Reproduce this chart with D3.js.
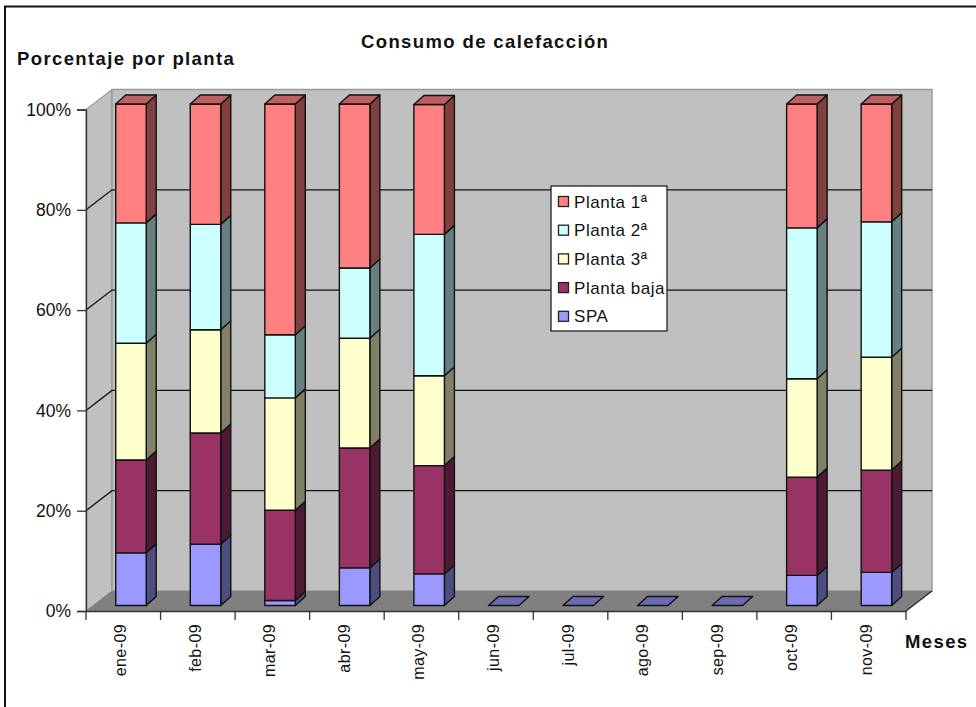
<!DOCTYPE html>
<html lang="es">
<head>
<meta charset="utf-8">
<title>Consumo de calefacción</title>
<script src="https://cdn.jsdelivr.net/npm/d3@7"></script>
<style>
  html, body { margin: 0; padding: 0; background: #fff; }
  svg { display: block; }
  text { font-family: "Liberation Sans", Arial, sans-serif; fill: #111; }
</style>
</head>
<body>
<svg id="chart" width="976" height="707"></svg>
<script>
// Meses y porcentaje de consumo por planta
const months = ["ene-09","feb-09","mar-09","abr-09","may-09","jun-09","jul-09","ago-09","sep-09","oct-09","nov-09"];
const seriesNames = ["SPA","Planta baja","Planta 3ª","Planta 2ª","Planta 1ª"];
const spa       = [10.5, 12.2,  1.0,  7.5,  6.3, 0, 0, 0, 0,  6.0,  6.6];
const plantaBaja= [18.5, 22.2, 18.0, 23.9, 21.6, 0, 0, 0, 0, 19.6, 20.4];
const planta3   = [23.3, 20.6, 22.4, 21.9, 17.9, 0, 0, 0, 0, 19.6, 22.5];
const planta2   = [24.0, 21.0, 12.6, 14.0, 28.2, 0, 0, 0, 0, 30.1, 27.0];
const planta1   = [23.7, 24.0, 46.0, 32.7, 25.9, 0, 0, 0, 0, 24.7, 23.5];
const seriesValues = [spa, plantaBaja, planta3, planta2, planta1];
const seriesColors = ["#9999FF","#993366","#FFFFCC","#CCFFFF","#FF8080"];
const legendOrder = ["Planta 1ª","Planta 2ª","Planta 3ª","Planta baja","SPA"];
const yTicks = [0, 20, 40, 60, 80, 100];

const svg = d3.select("#chart");

// Front plane of the 3D box
const x = d3.scaleBand().domain(months).range([86, 906]).paddingInner(0).paddingOuter(0);
const y = d3.scaleLinear().domain([0, 100]).range([611, 109.5]);

// Oblique offsets: full box depth, bar front plane, bar depth
const depth = { dx: 26, dy: -20 };
const barFront = { dx: 7.7, dy: -5.5 };
const barDepth = { dx: 10, dy: -9 };
const barWidth = 30.5;
const line = d3.line();
const poly = pts => line(pts) + "Z";

// Outer frame: only the top and left edges are drawn
svg.append("path").attr("d", line([[5, 707], [5, 6.5], [976, 6.5]]))
  .attr("fill", "none").attr("stroke", "#111").attr("stroke-width", 2);

// Walls and floor
const x0 = x.range()[0], x1 = x.range()[1], yb = y(0), yt = y(100);
const back = (px, py) => [px + depth.dx, py + depth.dy];
svg.append("path").attr("d", poly([[x0, yb], [x0, yt], back(x0, yt), back(x0, yb)]))
  .attr("fill", "#C0C0C0").attr("stroke", "#808080");
svg.append("path").attr("d", poly([back(x0, yt), back(x1, yt), back(x1, yb), back(x0, yb)]))
  .attr("fill", "#C0C0C0").attr("stroke", "#9a9a9a").attr("stroke-width", 1.5);
svg.append("path").attr("d", poly([[x0, yb], [x1, yb], back(x1, yb), back(x0, yb)]))
  .attr("fill", "#808080");

// Gridlines run along the side wall and the back wall
yTicks.filter(t => t > 0 && t < 100).forEach(t => {
  svg.append("path")
    .attr("d", line([[x0, y(t)], back(x0, y(t)), back(x1, y(t))]))
    .attr("fill", "none").attr("stroke", "#111").attr("stroke-width", 1.3);
});
svg.append("path").attr("d", line([[x1, yb], back(x1, yb)]))
  .attr("fill", "none").attr("stroke", "#222").attr("stroke-width", 1.2);

// Stacked bars
const rows = months.map((m, i) => {
  const row = { month: m };
  seriesNames.forEach((s, k) => { row[s] = seriesValues[k][i]; });
  return row;
});
const stacked = d3.stack().keys(seriesNames)(rows);
const shade = (c, f) => { const q = d3.rgb(c); return d3.rgb(q.r * f, q.g * f, q.b * f).formatHex(); };

rows.forEach((row, i) => {
  const g = svg.append("g");
  const left = x(row.month) + x.bandwidth() / 2 - barWidth / 2 + barFront.dx;
  const right = left + barWidth;
  const topIndex = d3.max(stacked.map((s, k) => s[i][1] > s[i][0] ? k : 0));
  stacked.forEach((s, k) => {
    const [v0, v1] = s[i];
    const empty = v1 <= v0;
    if (empty && k !== 0) return;
    const yB = y(v0) + barFront.dy, yT = y(v1) + barFront.dy;
    const col = seriesColors[k];
    const shape = (d, fill) => g.append("path").attr("d", d).attr("fill", fill)
      .attr("stroke", "#111").attr("stroke-width", 1.4).attr("stroke-linejoin", "round");
    if (!empty) {
      shape(poly([[right, yB], [right + barDepth.dx, yB + barDepth.dy], [right + barDepth.dx, yT + barDepth.dy], [right, yT]]), shade(col, 0.5));
      shape(poly([[left, yT], [right, yT], [right, yB], [left, yB]]), col);
    }
    if (k === topIndex) {
      shape(poly([[left, yT], [right, yT], [right + barDepth.dx, yT + barDepth.dy], [left + barDepth.dx, yT + barDepth.dy]]),
        empty ? shade(col, 0.7) : shade(col, 0.75));
    }
  });
});

// Value axis
const yAxis = svg.append("g").attr("transform", `translate(${x0},0)`)
  .call(d3.axisLeft(y).tickValues(yTicks).tickFormat(d => d + "%").tickSize(9).tickPadding(6));
yAxis.select(".domain").attr("stroke", "#333").attr("stroke-width", 1.3);
yAxis.selectAll(".tick line").attr("stroke", "#333").attr("stroke-width", 1.3);
yAxis.selectAll("text").attr("font-size", 17.5).attr("font-family", "Liberation Sans").attr("fill", "#222");

// Category axis: labels centred on bands, tick marks on band edges
const xAxis = svg.append("g").attr("transform", `translate(0,${yb})`)
  .call(d3.axisBottom(x).tickSize(0).tickPadding(0));
xAxis.select(".domain").attr("stroke", "#333").attr("stroke-width", 1.3);
xAxis.selectAll("text")
  .attr("font-size", 16).attr("font-family", "Liberation Sans").attr("fill", "#222")
  .attr("letter-spacing", 0.4)
  .attr("text-anchor", "end").attr("dy", null)
  .attr("transform", "translate(-2,13) rotate(-90)").attr("y", 5).attr("x", 0);
xAxis.selectAll("line.edge")
  .data(months.map(m => x(m)).concat(x1))
  .join("line").attr("class", "edge")
  .attr("x1", d => d).attr("x2", d => d).attr("y1", 0).attr("y2", 9)
  .attr("stroke", "#333").attr("stroke-width", 1.3);

// Legend
const legend = svg.append("g").attr("transform", "translate(551,186)");
legend.append("rect").attr("width", 116).attr("height", 145)
  .attr("fill", "#fff").attr("stroke", "#222").attr("stroke-width", 1.3);
const item = legend.selectAll("g").data(legendOrder).join("g")
  .attr("transform", (d, i) => `translate(0,${15.5 + i * 28.7})`);
item.append("rect").attr("x", 7.5).attr("y", -5).attr("width", 10).attr("height", 10)
  .attr("fill", d => seriesColors[seriesNames.indexOf(d)]).attr("stroke", "#222").attr("stroke-width", 1.3);
item.append("text").attr("x", 23).attr("y", 6).attr("font-size", 17).attr("letter-spacing", 0.55).attr("fill", "#222").text(d => d);

// Titles
const heading = (tx, ty, label) => svg.append("text").attr("x", tx).attr("y", ty)
  .attr("font-size", 18.5).attr("font-weight", 700).attr("letter-spacing", 1.38).text(label);
heading(361, 48, "Consumo de calefacción");
heading(17, 65, "Porcentaje por planta");
heading(905, 648, "Meses");
</script>
</body>
</html>
